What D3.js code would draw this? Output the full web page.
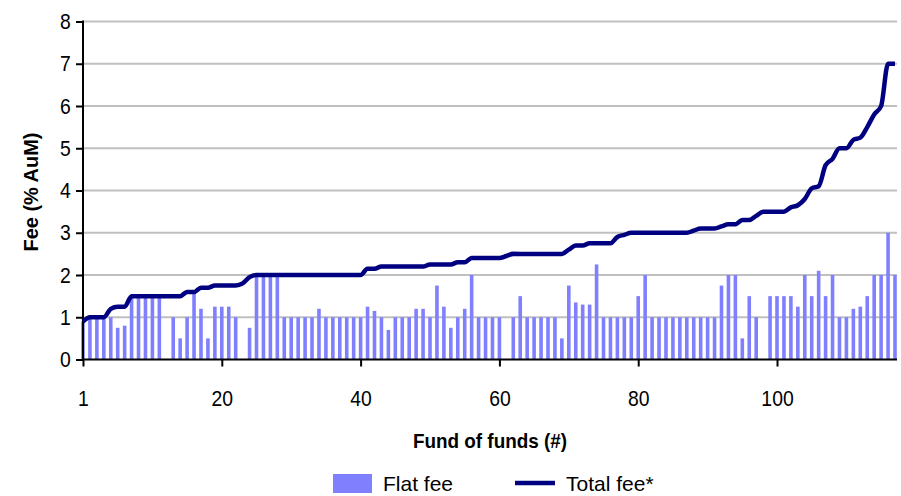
<!DOCTYPE html>
<html>
<head>
<meta charset="utf-8">
<script src="https://cdn.jsdelivr.net/npm/d3@7"></script>
<style>
  body { margin: 0; background: #fff; }
  text { font-family: "Liberation Sans", Arial, sans-serif; }
</style>
</head>
<body>
<svg id="chart" width="901" height="496"></svg>
<script>
// flat fee per fund of funds (% AuM), sorted by total fee
var flatFee = [0.9, 1, 1, 1, 1, 0.75, 0.8, 1.5, 1.5, 1.5,
  1.5, 1.5, 0, 1, 0.5, 1, 1.55, 1.2, 0.5, 1.25,
  1.25, 1.25, 1, 0, 0.75, 2, 2, 2, 2, 1,
  1, 1, 1, 1, 1.2, 1, 1, 1, 1, 1,
  1, 1.25, 1.15, 1, 0.7, 1, 1, 1, 1.2, 1.2,
  1, 1.75, 1.25, 0.75, 1, 1.2, 2, 1, 1, 1,
  1, 0, 1, 1.5, 1, 1, 1, 1, 1, 0.5,
  1.75, 1.35, 1.3, 1.3, 2.25, 1, 1, 1, 1, 1,
  1.5, 2, 1, 1, 1, 1, 1, 1, 1, 1,
  1, 1, 1.75, 2, 2, 0.5, 1.5, 1, 0, 1.5,
  1.5, 1.5, 1.5, 1.25, 2, 1.5, 2.1, 1.5, 2, 1,
  1, 1.2, 1.25, 1.5, 2, 2, 3, 2];

// total fee incl. performance fee (% AuM)
var totalFee = [0.9, 1, 1, 1, 1.2, 1.25, 1.25, 1.5, 1.5, 1.5,
  1.5, 1.5, 1.5, 1.5, 1.5, 1.6, 1.6, 1.7, 1.7, 1.75,
  1.75, 1.75, 1.75, 1.8, 1.95, 2, 2, 2, 2, 2,
  2, 2, 2, 2, 2, 2, 2, 2, 2, 2,
  2, 2.15, 2.15, 2.2, 2.2, 2.2, 2.2, 2.2, 2.2, 2.2,
  2.25, 2.25, 2.25, 2.25, 2.3, 2.3, 2.4, 2.4, 2.4, 2.4,
  2.4, 2.45, 2.5, 2.5, 2.5, 2.5, 2.5, 2.5, 2.5, 2.5,
  2.6, 2.7, 2.7, 2.75, 2.75, 2.75, 2.75, 2.9, 2.95, 3,
  3, 3, 3, 3, 3, 3, 3, 3, 3.05, 3.1,
  3.1, 3.1, 3.15, 3.2, 3.2, 3.3, 3.3, 3.4, 3.5, 3.5,
  3.5, 3.5, 3.6, 3.65, 3.8, 4.05, 4.1, 4.6, 4.75, 5,
  5, 5.2, 5.25, 5.5, 5.8, 6, 7, 7];

var xTickPos = [0, 20, 40, 60, 80, 100];
var xTickLabels = ["1", "20", "40", "60", "80", "100"];
var yTicks = [0, 1, 2, 3, 4, 5, 6, 7, 8];
var seriesNames = ["Flat fee", "Total fee*"];

var funds = d3.range(flatFee.length);

var svg = d3.select("#chart");
var m = {left: 83, right: 897, top: 21.5, bottom: 359.5};

//================= scales
var x = d3.scaleLinear().domain([0, funds.length - 1]).range([m.left, m.right - 2]);
var y = d3.scaleLinear().domain([0, 8]).range([m.bottom, m.top]);

//================= grid lines
svg.append("g")
   .selectAll("line")
   .data(yTicks.slice(1))
   .enter().append("line")
   .attr("x1", m.left).attr("x2", m.right)
   .attr("y1", function(d) { return y(d); })
   .attr("y2", function(d) { return y(d); })
   .attr("stroke", "#c0c0c0")
   .attr("stroke-width", 2);

//================= bars
var barW = 3.6;
svg.append("g")
   .selectAll("rect")
   .data(funds)
   .enter().append("rect")
   .attr("x", function(i) { return x(i) - barW / 2; })
   .attr("y", function(i) { return y(flatFee[i]); })
   .attr("width", barW)
   .attr("height", function(i) { return y(0) - y(flatFee[i]); })
   .attr("fill", "#8080ff");

//================= axes
var yAxis = svg.append("g")
   .attr("transform", "translate(" + m.left + ",0)")
   .call(d3.axisLeft(y).tickValues(yTicks).tickSize(7).tickPadding(7).tickFormat(d3.format("d")));

var xAxis = svg.append("g")
   .attr("transform", "translate(0," + m.bottom + ")")
   .call(d3.axisBottom(x).tickValues(xTickPos).tickSize(7).tickPadding(24)
     .tickFormat(function(d, i) { return xTickLabels[i]; }));

[yAxis, xAxis].forEach(function(a) {
  a.select(".domain").remove();
  a.selectAll(".tick line").attr("stroke", "#000").attr("stroke-width", 2);
  a.selectAll(".tick text").attr("fill", "#000").style("font-size", "22px")
   .attr("transform", "scale(0.88,1)");
});

svg.append("line").attr("x1", m.left).attr("x2", m.left).attr("y1", m.top - 1).attr("y2", m.bottom + 1)
   .attr("stroke", "#000").attr("stroke-width", 2);
svg.append("line").attr("x1", m.left - 1).attr("x2", m.right).attr("y1", m.bottom).attr("y2", m.bottom)
   .attr("stroke", "#000").attr("stroke-width", 2);

//================= total fee line
var line = d3.line()
   .x(function(i) { return x(i); })
   .y(function(i) { return y(totalFee[i]); })
   .curve(d3.curveMonotoneX);

svg.append("path")
   .attr("d", line(funds))
   .attr("fill", "none")
   .attr("stroke", "#000080")
   .attr("stroke-width", 4.5);

//================= axis titles
svg.append("text")
   .attr("transform", "translate(38,192) rotate(-90) scale(0.95,1)")
   .attr("text-anchor", "middle")
   .style("font-size", "21px").style("font-weight", "bold")
   .text("Fee (% AuM)");

svg.append("text")
   .attr("transform", "translate(490,448) scale(0.9,1)")
   .attr("text-anchor", "middle")
   .style("font-size", "21px").style("font-weight", "bold")
   .text("Fund of funds (#)");

//================= legend
var legend = svg.append("g");
legend.append("rect").attr("x", 333).attr("y", 474).attr("width", 39).attr("height", 19).attr("fill", "#8080ff");
legend.append("text").attr("x", 383).attr("y", 491).style("font-size", "21px").text(seriesNames[0]);
legend.append("line").attr("x1", 515).attr("x2", 555).attr("y1", 483).attr("y2", 483)
   .attr("stroke", "#000080").attr("stroke-width", 4.5);
legend.append("text").attr("x", 566).attr("y", 491).style("font-size", "21px").text(seriesNames[1]);
</script>
</body>
</html>
